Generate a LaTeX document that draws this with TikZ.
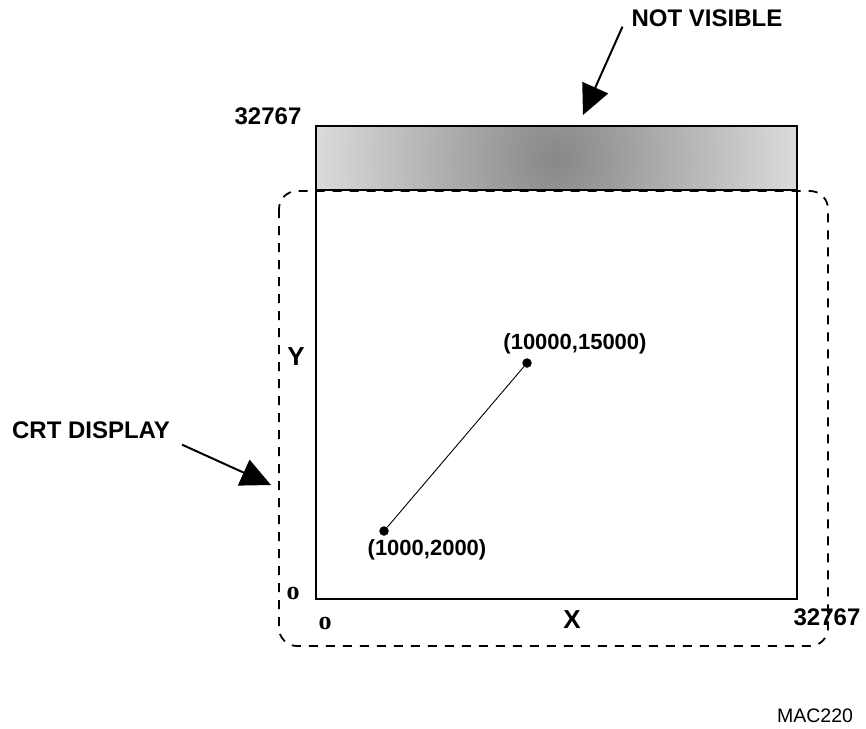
\documentclass[tikz,border=0pt]{standalone}
\usepackage{fontspec}
\usepackage{tikz}
\setmainfont{Liberation Sans}
\newfontfamily\originfont{Liberation Serif}
\usetikzlibrary{arrows.meta, positioning}
\tikzset{
    lbl/.style={font=\fontsize{24}{28}\selectfont\bfseries, inner sep=0pt},
    coordlbl/.style={font=\fontsize{22}{26}\selectfont\bfseries, inner sep=0pt},
    axislbl/.style={font=\fontsize{26}{30}\selectfont\bfseries, inner sep=0pt},
    originlbl/.style={font=\fontsize{26}{30}\selectfont\originfont\bfseries, inner sep=0pt},
    tag/.style={font=\fontsize{19.5}{23}\selectfont, inner sep=0pt},
    screen/.style={draw=black, line width=2pt},
    crtbox/.style={draw=black, line width=1.8pt, dash pattern=on 9pt off 8pt, rounded corners=18pt},
    dot/.style={circle, fill=black, inner sep=0pt, minimum size=9.5pt},
    pointer/.style={-{Triangle[length=30pt, width=28pt]}, line width=2pt},
    vector/.style={line width=0.9pt}
}

\begin{document}
\begin{tikzpicture}[x=1pt, y=-1pt]

    \useasboundingbox (0,0) rectangle (866,728);

    % Hidden band on top of the screen
    \begin{scope}
        \clip (316,126) rectangle (797,190);
        \shade[inner color=black!47, outer color=black!13] (556,158) circle (250pt);
    \end{scope}

    % Screen and CRT outline
    \draw[screen] (316,126) rectangle (797,599);
    \draw[screen] (316,190) -- (797,190);
    \draw[crtbox] (279,191) rectangle (828,646);

    % Line between two points
    \node (start) [dot] at (384,531) {};
    \node (end)   [dot] at (527,363) {};
    \draw [vector] (start) -- (end);
    \node (startlbl) [coordlbl] at (427,550) {(1000,2000)};
    \node (endlbl)   [coordlbl] at (575,344) {(10000,15000)};

    % Axis labels
    \node (ymax) [lbl] at (268,116) {32767};
    \node (xmax) [lbl] at (827,617) {32767};
    \node (ylbl) [axislbl] at (296,357) {Y};
    \node (xlbl) [axislbl] at (572,620) {X};
    \node (yzero) [originlbl] at (293,593) {o};
    \node (xzero) [originlbl] at (325,623) {o};

    % Callouts
    \node (notvis) [lbl] at (707,18) {NOT VISIBLE};
    \node (crt)    [lbl] at (91,430) {CRT DISPLAY};
    \coordinate (bandtip) at (583,115);
    \coordinate (crttip)  at (271,485);
    \draw [pointer] ([xshift=-9pt]notvis.south west) -- (bandtip);
    \draw [pointer] ([shift={(12pt,-6pt)}]crt.south east) -- (crttip);

    \node (figno) [tag] at (815,716) {MAC220};

\end{tikzpicture}
\end{document}
